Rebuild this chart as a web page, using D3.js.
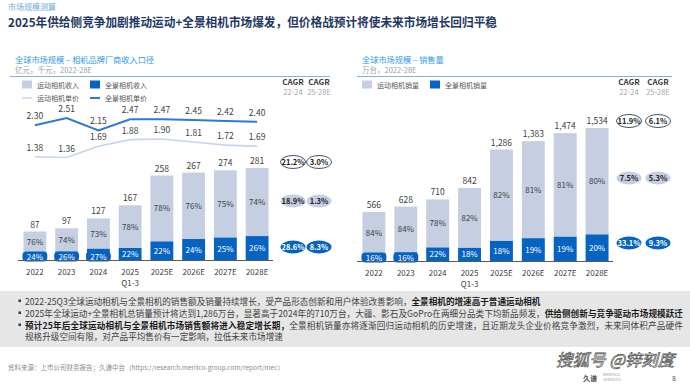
<!DOCTYPE html>
<html><head><meta charset="utf-8">
<script src="https://cdn.jsdelivr.net/npm/d3@7"></script>
<style>
html,body{margin:0;padding:0;background:#fff;}
svg{display:block;font-family:"Noto Sans CJK SC","Noto Sans",sans-serif;}
</style></head>
<body><svg id="c" width="690" height="387"></svg>
<script>
const years = ["2022","2023","2024","2025","2025E","2026E","2027E","2028E"];
const subLabels = ["","","","Q1-3","","","",""];
const revTotal = [87,97,127,167,258,267,274,281];
const revActionPct = [76,74,73,78,78,76,75,74];
const revPanoPct = [24,26,27,22,22,24,25,26];
const priceAction = [1.38,1.36,1.69,1.88,1.90,1.81,1.72,1.69];
const pricePano = [2.30,2.51,2.15,2.47,2.47,2.45,2.42,2.40];
const volTotal = [566,628,710,842,1286,1383,1474,1534];
const volActionPct = [84,84,78,82,82,81,81,80];
const volPanoPct = [16,16,22,18,18,19,19,20];
const cagrHeads = ["CAGR","CAGR"];
const cagrPeriods = ["22-24","25-28E"];
const revCagr = [["21.2%","3.0%"],["18.9%","1.3%"],["28.6%","8.3%"]];
const volCagr = [["11.9%","6.1%"],["7.5%","5.3%"],["33.1%","9.3%"]];
const bullets = [
  [["2022-25Q3全球运动相机与全景相机的销售额及销量持续增长，受产品形态创新和用户体验改善影响，",false],["全景相机的增速高于普通运动相机",true]],
  [["2025年全球运动+全景相机总销量预计将达到1,286万台，显著高于2024年的710万台，大疆、影石及GoPro在两细分品类下均新品频发，",false],["供给侧创新与竞争驱动市场规模跃迁",true]],
  [["预计25年后全球运动相机与全景相机市场销售额将进入稳定增长期，",true],["全景相机销量亦将逐渐回归运动相机的历史增速，且近期龙头企业价格竞争激烈，未来同体积产品硬件",false]],
  [["规格升级空间有限，对产品平均售价有一定影响，拉低未来市场增速",false]]
];

const LIGHT = "#c5cfe1", DARK = "#0563c1", LINE_D = "#2b7bd3", LINE_L = "#c6d4ec";
const svg = d3.select("#c");
svg.append("rect").attr("width",690).attr("height",387).attr("fill","#fff");

svg.append("text").attr("x",8).attr("y",10).attr("font-size",8).attr("fill","#6fa8dc").text("市场规模测算");
svg.append("text").attr("x",8).attr("y",27).attr("font-size",12.2).attr("font-weight","bold").attr("fill","#1f3864")
  .attr("textLength",489).attr("lengthAdjust","spacingAndGlyphs")
  .text("2025年供给侧竞争加剧推动运动+全景相机市场爆发，但价格战预计将使未来市场增长回归平稳");

function panel(opt){
  const g = svg.append("g");
  g.append("text").attr("x",opt.x0+5).attr("y",63).attr("font-size",8.2).attr("fill","#2e9be6").text(opt.title);
  g.append("text").attr("x",opt.x0+5).attr("y",73).attr("font-size",7.5).attr("fill","#a0a0a0").text(opt.unit);
  g.append("line").attr("x1",opt.x0).attr("x2",opt.x1).attr("y1",76.5).attr("y2",76.5).attr("stroke","#7fb2e5").attr("stroke-width",1);
  opt.legend.forEach((l,i)=>{
    const lx = l.x, ly = l.y;
    if(l.type==="rect") g.append("rect").attr("x",lx).attr("y",ly-4.5).attr("width",10).attr("height",8).attr("fill",l.color);
    else g.append("line").attr("x1",lx).attr("x2",lx+10).attr("y1",ly).attr("y2",ly).attr("stroke",l.color).attr("stroke-width",l.w);
    g.append("text").attr("x",lx+15).attr("y",ly+2.7).attr("font-size",7).attr("fill","#555").text(l.label);
  });
  opt.cagrX.forEach((cx,i)=>{
    g.append("text").attr("x",cx).attr("y",84.5).attr("text-anchor","middle").attr("font-size",8).attr("font-weight","bold").attr("fill","#404040").text(cagrHeads[i]);
    g.append("text").attr("x",cx).attr("y",95).attr("text-anchor","middle").attr("font-size",7.5).attr("fill","#a6a6a6").text(cagrPeriods[i]);
  });
  const x = d3.scaleBand().domain(years).range([opt.ax0,opt.ax1]).paddingInner(0.28).paddingOuter(0.14);
  const y = d3.scaleLinear().domain([0,opt.max]).range([opt.base,opt.top]);
  const bw = x.bandwidth();
  years.forEach((yr,i)=>{
    const tot = opt.total[i];
    const pano = tot*opt.panoPct[i]/100;
    const bx = x(yr);
    g.append("rect").attr("x",bx).attr("y",y(tot)).attr("width",bw).attr("height",y(pano)-y(tot)).attr("fill",LIGHT);
    g.append("rect").attr("x",bx).attr("y",y(pano)).attr("width",bw).attr("height",opt.base-y(pano)).attr("fill",DARK);
    const cx = bx+bw/2;
    g.append("text").attr("x",cx).attr("y",y(tot)-4).attr("text-anchor","middle").attr("font-size",8.5).attr("fill","#404040").text(opt.fmt(tot));
    g.append("text").attr("x",cx).attr("y",(y(tot)+y(pano))/2+3).attr("text-anchor","middle").attr("font-size",8).attr("fill","#404040").text(opt.actPct[i]+"%");
    const segH = opt.base-y(pano);
    let ly = (y(pano)+opt.base)/2;
    if(segH<12){
      ly = opt.base-3.5;
      g.append("rect").attr("x",bx-1).attr("y",ly-5).attr("width",bw+2).attr("height",10).attr("rx",4).attr("fill",DARK);
    }
    g.append("text").attr("x",cx).attr("y",ly+3).attr("text-anchor","middle").attr("font-size",8).attr("fill","#fff").text(opt.panoPct[i]+"%");
    g.append("text").attr("x",cx).attr("y",opt.base+15).attr("text-anchor","middle").attr("font-size",8).attr("fill","#404040").text(yr);
    if(subLabels[i]) g.append("text").attr("x",cx).attr("y",opt.base+26).attr("text-anchor","middle").attr("font-size",8).attr("fill","#404040").text(subLabels[i]);
  });
  g.append("line").attr("x1",opt.ax0-1).attr("x2",opt.ax1).attr("y1",opt.base+0.5).attr("y2",opt.base+0.5).attr("stroke","#595959").attr("stroke-width",1);
  const styles = [{fill:"#fff",stroke:"#44546a",text:"#222"},{fill:LIGHT,stroke:"none",text:"#222"},{fill:DARK,stroke:"none",text:"#fff"}];
  opt.cagr.forEach((row,r)=>{
    row.forEach((v,c)=>{
      const ex = opt.cagrX[c], ey = opt.cagrY[r];
      g.append("ellipse").attr("cx",ex).attr("cy",ey).attr("rx",12.5).attr("ry",6.5).attr("fill",styles[r].fill).attr("stroke",styles[r].stroke).attr("stroke-width",1);
      g.append("text").attr("x",ex).attr("y",ey+2.8).attr("text-anchor","middle").attr("font-size",7.5).attr("font-weight","bold").attr("fill",styles[r].text).text(v);
    });
  });
  return {g,x,bw};
}

const L = panel({x0:10,x1:330,title:"全球市场规模 – 相机品牌厂商收入口径",unit:"亿元，千元，2022-28E",
  legend:[{type:"rect",x:22,y:85,color:LIGHT,label:"运动相机收入"},{type:"rect",x:90,y:85,color:DARK,label:"全景相机收入"},
          {type:"line",x:22,y:98,color:LINE_L,w:1.5,label:"运动相机单价"},{type:"line",x:90,y:98,color:LINE_D,w:2,label:"全景相机单价"}],
  cagrX:[293,319],cagrY:[162,201,247],cagr:revCagr,
  ax0:19,ax1:273,base:260,top:168,max:281,total:revTotal,actPct:revActionPct,panoPct:revPanoPct,fmt:d=>d3.format(",")(d)});

const R = panel({x0:357,x1:672,title:"全球市场规模 – 销售量",unit:"万台，2022-28E",
  legend:[{type:"rect",x:362,y:85,color:LIGHT,label:"运动相机销量"},{type:"rect",x:430,y:85,color:DARK,label:"全景相机销量"}],
  cagrX:[629,658],cagrY:[121,178,243],cagr:volCagr,
  ax0:358,ax1:613,base:261,top:128,max:1534,total:volTotal,actPct:volActionPct,panoPct:volPanoPct,fmt:d=>d3.format(",")(d)});

const yP = d3.scaleLinear().domain([1.36,2.51]).range([157.5,118]);
const cxL = yr => L.x(yr)+L.bw/2;
[[priceAction,LINE_L,1.6],[pricePano,LINE_D,2]].forEach(([arr,col,w])=>{
  const line = d3.line().x((d,i)=>cxL(years[i])).y(d=>yP(d));
  L.g.append("path").attr("d",line(arr)).attr("fill","none").attr("stroke",col).attr("stroke-width",w);
  arr.forEach((v,i)=>{
    L.g.append("text").attr("x",cxL(years[i])).attr("y",yP(v)-6).attr("text-anchor","middle").attr("font-size",8.5).attr("fill","#404040").text(v.toFixed(2));
  });
});

// bullets box
svg.append("rect").attr("x",0).attr("y",291).attr("width",690).attr("height",56).attr("fill","#e6e6e6");
const lineYs = [304.5,316.5,328.5,340];
const lineLens = [null,658,658,null];
const baseFs = 8.6;
bullets.forEach((segs,i)=>{
  if(i<3) svg.append("rect").attr("x",18.5).attr("y",lineYs[i]-5).attr("width",2.5).attr("height",2.5).attr("fill","#1f3864");
  const els = segs.map(([s,b])=> svg.append("text").attr("y",lineYs[i]).attr("font-size",baseFs)
      .attr("font-weight",b?"bold":"normal").attr("fill",b?"#1a1a1a":"#404040").text(s));
  if(lineLens[i]){
    const total = els.reduce((a,e)=>a+e.node().getComputedTextLength(),0);
    const n = segs.reduce((a,s)=>a+s[0].length,0);
    const ls = (lineLens[i]-total)/n;
    els.forEach(e=>e.attr("letter-spacing",ls));
  }
  let cx = 25;
  els.forEach(e=>{ e.attr("x",cx); cx += e.node().getComputedTextLength(); });
});

// footer
svg.append("text").attr("x",8).attr("y",370).attr("font-size",6.5).attr("fill","#8c8c8c")
  .text("资料来源：上市公司财务报告；久谦中台（https://research.meritco-group.com/report/mec）");
svg.append("text").attr("x",556).attr("y",366).attr("font-size",16.5).attr("font-style","italic").attr("fill","rgba(255,255,255,0.7)").attr("stroke","#555").attr("stroke-width",0.7).text("搜狐号 @锌刻度");
svg.append("text").attr("x",583).attr("y",381).attr("font-size",7).attr("font-weight","bold").attr("fill","#555").text("久谦");
svg.append("text").attr("x",603).attr("y",376).attr("font-size",4).attr("fill","#999").text("MERITCO");
svg.append("text").attr("x",603).attr("y",381).attr("font-size",4).attr("fill","#999").text("SERVICES");
svg.append("text").attr("x",672).attr("y",381).attr("font-size",7).attr("fill","#555").text("8");
</script></body></html>
